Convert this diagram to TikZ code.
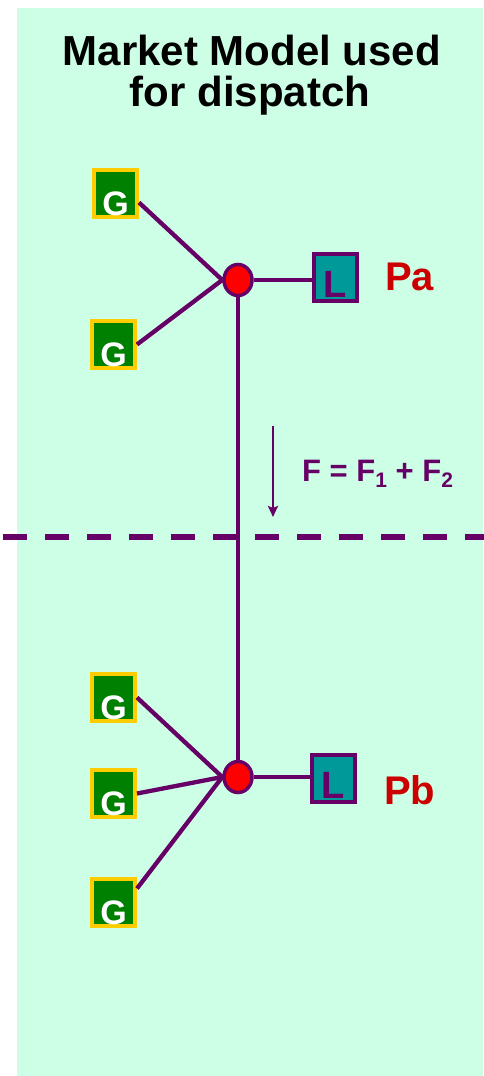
\documentclass[tikz,border=0pt]{standalone}
\usepackage{fontspec}
\setmainfont{Liberation Sans}
\usetikzlibrary{arrows.meta,shapes.geometric}
\definecolor{bgmint}{HTML}{CCFFE5}
\definecolor{mpurple}{HTML}{660066}
\definecolor{gfill}{HTML}{008000}
\definecolor{gold}{HTML}{FFCC00}
\definecolor{teal}{HTML}{009999}
\definecolor{pred}{HTML}{CC0000}
\newcommand{\lowsub}[1]{\raisebox{-6pt}{\fontsize{21}{21}\selectfont #1}}
\tikzset{
  gbox/.style={rectangle, draw=gold, fill=gfill, line width=4pt, minimum width=43pt, minimum height=47pt,
    inner sep=0pt, text=white, font=\fontsize{34}{34}\selectfont\bfseries, text height=44pt, text depth=0pt},
  lbox/.style={rectangle, draw=mpurple, fill=teal, line width=4pt, minimum width=43pt, minimum height=47pt,
    inner sep=0pt, text=mpurple, font=\fontsize{38}{38}\selectfont\bfseries, text height=40pt, text depth=0pt},
  bus/.style={ellipse, draw=mpurple, fill=red, line width=3.5pt, minimum width=28pt, minimum height=31pt, inner sep=0pt},
  wire/.style={draw=mpurple, line width=4.3pt},
  price/.style={text=pred, font=\fontsize{40}{40}\selectfont\bfseries, anchor=base west, inner sep=0pt},
  titletext/.style={font=\fontsize{42}{42}\selectfont\bfseries, anchor=base, inner sep=0pt},
}
\begin{document}
\begin{tikzpicture}[x=1pt,y=-1pt]
\useasboundingbox (0,0) rectangle (483,1076);
\fill[bgmint] (17,8) rectangle (483,1076);

\node[titletext] (t1) at (252,65) {Market Model used};
\node[titletext] (t2) at (250,106) {for dispatch};

% upper area
\node[bus] (b1) at (238,280) {};
\node[gbox] (g1) at (115.5,193.5) {G};
\node[gbox] (g2) at (113.5,344.5) {G};
\node[lbox] (l1) at (335.5,277.5) {L};
\node[price] (pa) at (385,290) {Pa};

% lower area
\node[bus] (b2) at (238,777) {};
\node[gbox] (g3) at (113.5,697.5) {G};
\node[gbox] (g4) at (113.5,793.5) {G};
\node[gbox] (g5) at (113.5,902.5) {G};
\node[lbox] (l2) at (333,778.5) {L};
\node[price] (pb) at (384,804) {Pb};

% wires
\draw[wire] ([yshift=-9pt]g1.east) -- (b1.west);
\draw[wire] (g2.east) -- (b1.west);
\draw[wire] (b1.east) -- (b1.east -| l1.west);
\draw[wire] (b1.south) -- (b2.north);
\draw[wire] (g3.east) -- (b2.west);
\draw[wire] (g4.east) -- (b2.west);
\draw[wire] ([yshift=14pt]g5.east) -- (b2.west);
\draw[wire] (b2.east) -- (b2.east -| l2.west);

% flow arrow
\coordinate (fa) at (273,426);
\coordinate (fb) at (273,517);
\draw[mpurple, line width=2.8pt, -{Stealth[length=11pt,width=10pt,inset=2pt]}] (fa) -- (fb);
\node[text=mpurple, font=\fontsize{31}{31}\selectfont\bfseries, anchor=base west, inner sep=0pt] (flab) at (302,481) {F = F\lowsub{1} + F\lowsub{2}};

% dashed boundary
\coordinate (dl) at (3,537);
\coordinate (dr) at (490,537);
\draw[mpurple, line width=6pt, dash pattern=on 24pt off 18pt] (dl) -- (dr);
\end{tikzpicture}
\end{document}
